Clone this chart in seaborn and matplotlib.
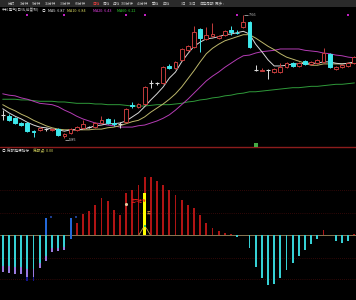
import matplotlib
matplotlib.use("Agg")
import matplotlib.pyplot as plt
from matplotlib.patches import Rectangle
import numpy as np
import pandas as pd
import seaborn as sns

# ---------------- data ----------------
opens  = [6.19, 6.17, 6.14, 6.07, 6.07, 5.95, 5.97, 5.98, 5.97, 5.98,
          5.88, 5.92, 5.97, 6.00, 6.01, 6.01, 6.07, 6.13, 6.07, 6.06,
          6.09, 6.33, 6.31, 6.35, 6.66, 6.66, 6.66, 6.91, 6.88, 7.00,
          7.15, 7.19, 7.45, 7.31, 7.35, 7.32, 7.37, 7.44, 7.40, 7.48,
          7.56, 6.85, 6.84, 6.85, 6.82, 6.82, 6.90, 6.95, 6.91, 6.98,
          6.94, 6.95, 6.97, 7.09, 6.87, 6.89, 6.91, 6.95]
highs  = [6.26, 6.20, 6.16, 6.09, 6.09, 5.97, 6.01, 6.00, 6.00, 6.00,
          5.92, 6.00, 6.03, 6.11, 6.03, 6.09, 6.17, 6.14, 6.13, 6.09,
          6.29, 6.38, 6.37, 6.62, 6.70, 6.67, 6.91, 6.94, 6.98, 7.17,
          7.22, 7.50, 7.47, 7.48, 7.54, 7.37, 7.44, 7.50, 7.44, 7.66,
          7.57, 6.92, 6.88, 6.86, 6.88, 6.95, 6.97, 6.97, 6.97, 7.00,
          6.98, 7.01, 7.17, 7.10, 6.91, 6.94, 6.97, 7.06]
lows   = [6.11, 6.10, 6.06, 6.03, 5.94, 5.87, 5.95, 5.95, 5.95, 5.88,
          5.85, 5.91, 5.95, 5.98, 6.00, 6.00, 6.06, 6.06, 6.03, 6.00,
          6.07, 6.29, 6.29, 6.34, 6.59, 6.63, 6.64, 6.87, 6.87, 6.98,
          7.13, 7.17, 7.12, 7.29, 7.34, 7.31, 7.35, 7.37, 7.38, 7.47,
          7.17, 6.84, 6.84, 6.72, 6.81, 6.81, 6.88, 6.90, 6.90, 6.92,
          6.92, 6.94, 6.95, 6.88, 6.85, 6.88, 6.90, 6.94]
closes = [6.19, 6.11, 6.07, 6.04, 5.95, 5.94, 6.00, 5.98, 5.98, 5.89,
          5.91, 5.98, 6.01, 6.06, 6.01, 6.07, 6.11, 6.07, 6.06, 6.06,
          6.28, 6.32, 6.35, 6.60, 6.66, 6.66, 6.90, 6.88, 6.97, 7.16,
          7.20, 7.41, 7.32, 7.37, 7.38, 7.35, 7.42, 7.41, 7.39, 7.56,
          7.19, 6.85, 6.85, 6.85, 6.87, 6.90, 6.95, 6.91, 6.95, 6.94,
          6.97, 7.00, 7.10, 6.90, 6.89, 6.92, 6.95, 7.04]

ma5  = [6.28, 6.22, 6.17, 6.13, 6.08, 6.04, 6.01, 6.00, 5.98, 5.97,
        5.95, 5.97, 5.97, 5.98, 6.00, 6.03, 6.04, 6.06, 6.06, 6.07,
        6.10, 6.16, 6.22, 6.31, 6.41, 6.50, 6.60, 6.73, 6.82, 6.97,
        7.09, 7.20, 7.26, 7.31, 7.32, 7.34, 7.37, 7.38, 7.40, 7.42,
        7.38, 7.23, 7.12, 7.00, 6.91, 6.91, 6.92, 6.94, 6.94, 6.95,
        6.95, 6.95, 6.97, 6.97, 6.95, 6.94, 6.95, 6.97]
ma10 = [6.34, 6.29, 6.25, 6.20, 6.16, 6.11, 6.07, 6.03, 6.00, 5.98,
        5.97, 5.97, 5.97, 5.97, 5.97, 5.98, 5.98, 6.00, 6.01, 6.03,
        6.06, 6.09, 6.11, 6.16, 6.23, 6.29, 6.35, 6.42, 6.50, 6.60,
        6.72, 6.84, 6.97, 7.09, 7.17, 7.23, 7.28, 7.31, 7.34, 7.37,
        7.37, 7.32, 7.26, 7.20, 7.15, 7.09, 7.04, 7.01, 6.98, 6.95,
        6.92, 6.92, 6.94, 6.94, 6.94, 6.94, 6.95, 6.95]
ma20 = [6.50, 6.48, 6.47, 6.44, 6.42, 6.39, 6.36, 6.35, 6.34, 6.31,
        6.26, 6.22, 6.17, 6.13, 6.10, 6.07, 6.06, 6.04, 6.03, 6.01,
        6.01, 6.01, 6.03, 6.04, 6.07, 6.10, 6.14, 6.19, 6.26, 6.34,
        6.42, 6.51, 6.60, 6.69, 6.76, 6.82, 6.89, 6.95, 7.01, 7.06,
        7.07, 7.10, 7.12, 7.13, 7.14, 7.16, 7.16, 7.16, 7.16, 7.14,
        7.13, 7.12, 7.10, 7.09, 7.07, 7.06, 7.04, 7.03]
ma60 = [6.42, 6.42, 6.42, 6.41, 6.41, 6.40, 6.39, 6.39, 6.39, 6.38,
        6.38, 6.37, 6.36, 6.36, 6.36, 6.35, 6.35, 6.34, 6.34, 6.34,
        6.33, 6.32, 6.32, 6.32, 6.33, 6.34, 6.34, 6.34, 6.35, 6.36,
        6.38, 6.39, 6.41, 6.42, 6.44, 6.45, 6.47, 6.48, 6.50, 6.51,
        6.53, 6.53, 6.54, 6.55, 6.56, 6.57, 6.58, 6.59, 6.59, 6.60,
        6.61, 6.61, 6.62, 6.63, 6.64, 6.64, 6.65, 6.66]

hist = [-0.39, -0.40, -0.41, -0.41, -0.44, -0.44, -0.35, -0.27, -0.18, -0.17,
        -0.16, -0.04, 0.12, 0.22, 0.25, 0.31, 0.38, 0.35, 0.26, 0.20,
        0.43, 0.47, 0.52, 0.60, 0.60, 0.56, 0.52, 0.47, 0.41, 0.36,
        0.31, 0.28, 0.20, 0.12, 0.07, 0.04, 0.02, 0.01, -0.02, -0.005,
        -0.14, -0.34, -0.45, -0.52, -0.51, -0.45, -0.37, -0.30, -0.22, -0.16,
        -0.10, -0.04, 0.05, -0.005, -0.07, -0.09, -0.07, 0.005]
# purple lower tip start for the first falling bars (bars 0..10)
tip_start = [-0.33, -0.33, -0.34, -0.34, -0.36, -0.36, -0.29, -0.22, -0.14, -0.14, -0.13]
deep_bars = [4, 5]
deep_low = -0.48
blue_bars = [7, 11]
blue_top = [0.17, 0.17]
blue_bottom = [0.0, -0.04]
yellow_bar = 23
yellow_top = 0.43
top_marks = [4, 10, 20, 23, 38, 56]
buy_mark_bar = 41
buy_mark_price = 5.75
high_bar, high_val = 39, 7.66
low_bar, low_val = 10, 5.85

toolbar_labels = ["分时", "1分钟", "5分钟", "15分钟", "30分钟", "60分钟", "日线", "周线",
                  "月线", "100分钟", "45分钟", "季线", "年线", "3日", "15日", "自定周期", "更多 ›"]
main_title = "中科电气(日线,前复权)"
ma_labels = ["MA5: 6.87", "MA10: 6.84", "MA20: 6.43", "MA60: 6.22"]
sub_title = "底部起爆指标"
sub_value = "底部点: 0.00"

# ---------------- style ----------------
sns.set_style("dark")
plt.rcParams['font.family'] = ['Noto Sans CJK SC', 'DejaVu Sans']
plt.rcParams['axes.unicode_minus'] = False
plt.rcParams['patch.edgecolor'] = 'none'

W, H = 356, 300
fig = plt.figure(figsize=(W / 100, H / 100), dpi=100, facecolor='black')


def fx(px):
    return px / W


def fy(py):
    return 1 - py / H


UP = '#c43c3c'
DN = '#3ee8ec'
DOJI = '#dcdcdc'
XL = (-0.44, 57.26)

ax = fig.add_axes([0, fy(147), 1, (147 - 8) / H])
ax2 = fig.add_axes([0, 0, 1, 147 / H])
for a in (ax, ax2):
    a.set_facecolor('black')
    for s in a.spines.values():
        s.set_visible(False)

# toolbar
fig.add_artist(Rectangle((0, fy(7)), 1, 7 / H, transform=fig.transFigure,
                         facecolor='#2a2a2a', edgecolor='none'))
tb_x = [8, 20, 32, 45, 60, 75, 92, 103, 113, 121, 137, 152, 163, 181, 189, 199, 215]
for lab, px in zip(toolbar_labels, tb_x):
    fig.text(fx(px), fy(3.6), lab, fontsize=2.6, color='#ff4040' if lab == "日线" else '#c0c0c0',
             va='center', ha='left')

# main legend
fig.text(fx(2), fy(10.5), main_title, fontsize=2.7, color='#d0d0d0', va='center')
fig.text(fx(42), fy(10.5), "◎", fontsize=2.7, color='#d0d0d0', va='center')
for lab, px, c in zip(ma_labels, [48, 67, 93, 117], ['#e6e6e6', '#d8d860', '#e040e0', '#30d030']):
    fig.text(fx(px), fy(10.5), lab, fontsize=2.7, color=c, va='center')

# ---------------- main panel ----------------
idx = np.arange(len(closes))
for vals, col in zip([ma60, ma20, ma10, ma5], ['#2f9a3a', '#b43cb4', '#bdb76b', '#d8d8d8']):
    sns.lineplot(x=idx, y=vals, ax=ax, color=col, linewidth=0.7, zorder=1)

for i, (o, h, l, c) in enumerate(zip(opens, highs, lows, closes)):
    if c > o:
        col, face = UP, 'black'
    elif c < o:
        col, face = DN, DN
    else:
        col, face = DOJI, DOJI
    lo_b, hi_b = min(o, c), max(o, c)
    ax.vlines(i, l, lo_b, color=col, lw=0.7, zorder=2)
    ax.vlines(i, hi_b, h, color=col, lw=0.7, zorder=2)
    if c == o:
        ax.hlines(o, i - 0.31, i + 0.31, color=col, lw=0.8, zorder=3)
    else:
        ax.bar(i, hi_b - lo_b, bottom=lo_b, width=0.62, facecolor=face,
               edgecolor=col, linewidth=0.7, zorder=3)

ax.scatter(top_marks, [high_val] * len(top_marks), s=1.2, marker='s', color='#c020c0',
           linewidths=0, zorder=4)
ax.scatter([buy_mark_bar], [buy_mark_price], s=5, marker='s', color='#44aa44', linewidths=0, zorder=4)
ax.hlines(high_val, high_bar + 0.1, high_bar + 0.8, color='#cccccc', lw=0.5)
ax.text(high_bar + 0.85, high_val, f"{high_val:.2f}", fontsize=2.8, color='#d0d0d0', va='center')
ax.hlines(low_val - 0.03, low_bar + 0.1, low_bar + 0.7, color='#cccccc', lw=0.5)
ax.text(low_bar + 0.75, low_val - 0.03, f"{low_val:.2f}", fontsize=2.8, color='#d0d0d0', va='center')

ax.set_xlim(*XL)
ax.set_ylim(5.717, 7.763)
ax.set_xticks([])
ax.set_yticks([])
ax.set_xlabel('')
ax.set_ylabel('')
ax.axhline(5.717, color='#8c1c1c', lw=1.0, clip_on=False)

# ---------------- lower panel ----------------
for gv in [0.46, 0.23, -0.24, -0.46]:
    ax2.axhline(gv, color='#5e1010', lw=0.5, ls=(0, (1, 2)), zorder=0)

df = pd.DataFrame({'i': idx, 'v': hist,
                   'c': ['up' if v > 0 else 'dn' for v in hist]})
sns.barplot(data=df, x='i', y='v', hue='c', palette={'up': '#b01414', 'dn': '#36d0d4'},
            native_scale=True, width=0.3, dodge=False, legend=False, errorbar=None,
            saturation=1, linewidth=0, edgecolor='none', ax=ax2, zorder=2)

for i, t in enumerate(tip_start):
    ax2.bar(i, hist[i] - t, bottom=t, width=0.3, color='#9a7be0', linewidth=0, zorder=3)
for i in deep_bars:
    ax2.bar(i, deep_low - hist[i], bottom=hist[i], width=0.3, color='#151590', linewidth=0, zorder=3)
for i, t, b in zip(blue_bars, blue_top, blue_bottom):
    ax2.bar(i, t - b, bottom=b, width=0.34, color='#2468d8', linewidth=0, zorder=3)
    ax2.scatter([i + 0.9], [t + 0.01], s=4, marker='s', color='#1e3c8c', linewidths=0, zorder=4)
ax2.bar(yellow_bar, yellow_top, bottom=0, width=0.6, color='#ffff00', linewidth=0, zorder=3)
ax2.plot([yellow_bar - 0.9, yellow_bar - 0.25], [0, 0.07], color='#c0a050', lw=0.6, zorder=4)
ax2.plot([yellow_bar + 0.25, yellow_bar + 0.9], [0.07, 0], color='#c0a050', lw=0.6, zorder=4)
ax2.scatter([yellow_bar], [0.09], s=4, marker='s', color='#30c060', linewidths=0, zorder=5)
ax2.scatter([20], [0.32], s=5, marker='o', color='#e8c8a0', linewidths=0, zorder=5)
ax2.text(20.9, 0.35, "主力进场", fontsize=2.6, color='#ff2020', va='center', zorder=5)
ax2.text(23.4, 0.23, "买", fontsize=2.6, color='#e0a040', va='center', zorder=5)

ax2.axhline(0, color='#a08a60', lw=0.6, zorder=1)
ax2.set_xlim(*XL)
ax2.set_ylim(-0.68, 0.85)
ax2.set_xticks([])
ax2.set_yticks([])
ax2.set_xlabel('')
ax2.set_ylabel('')

fig.text(fx(2), fy(150.5), "◎ " + sub_title, fontsize=2.7, color='#d0d0d0', va='center')
fig.text(fx(33), fy(150.5), sub_value, fontsize=2.7, color='#d8d860', va='center')

fig.savefig("out.png", dpi=100, facecolor='black')
